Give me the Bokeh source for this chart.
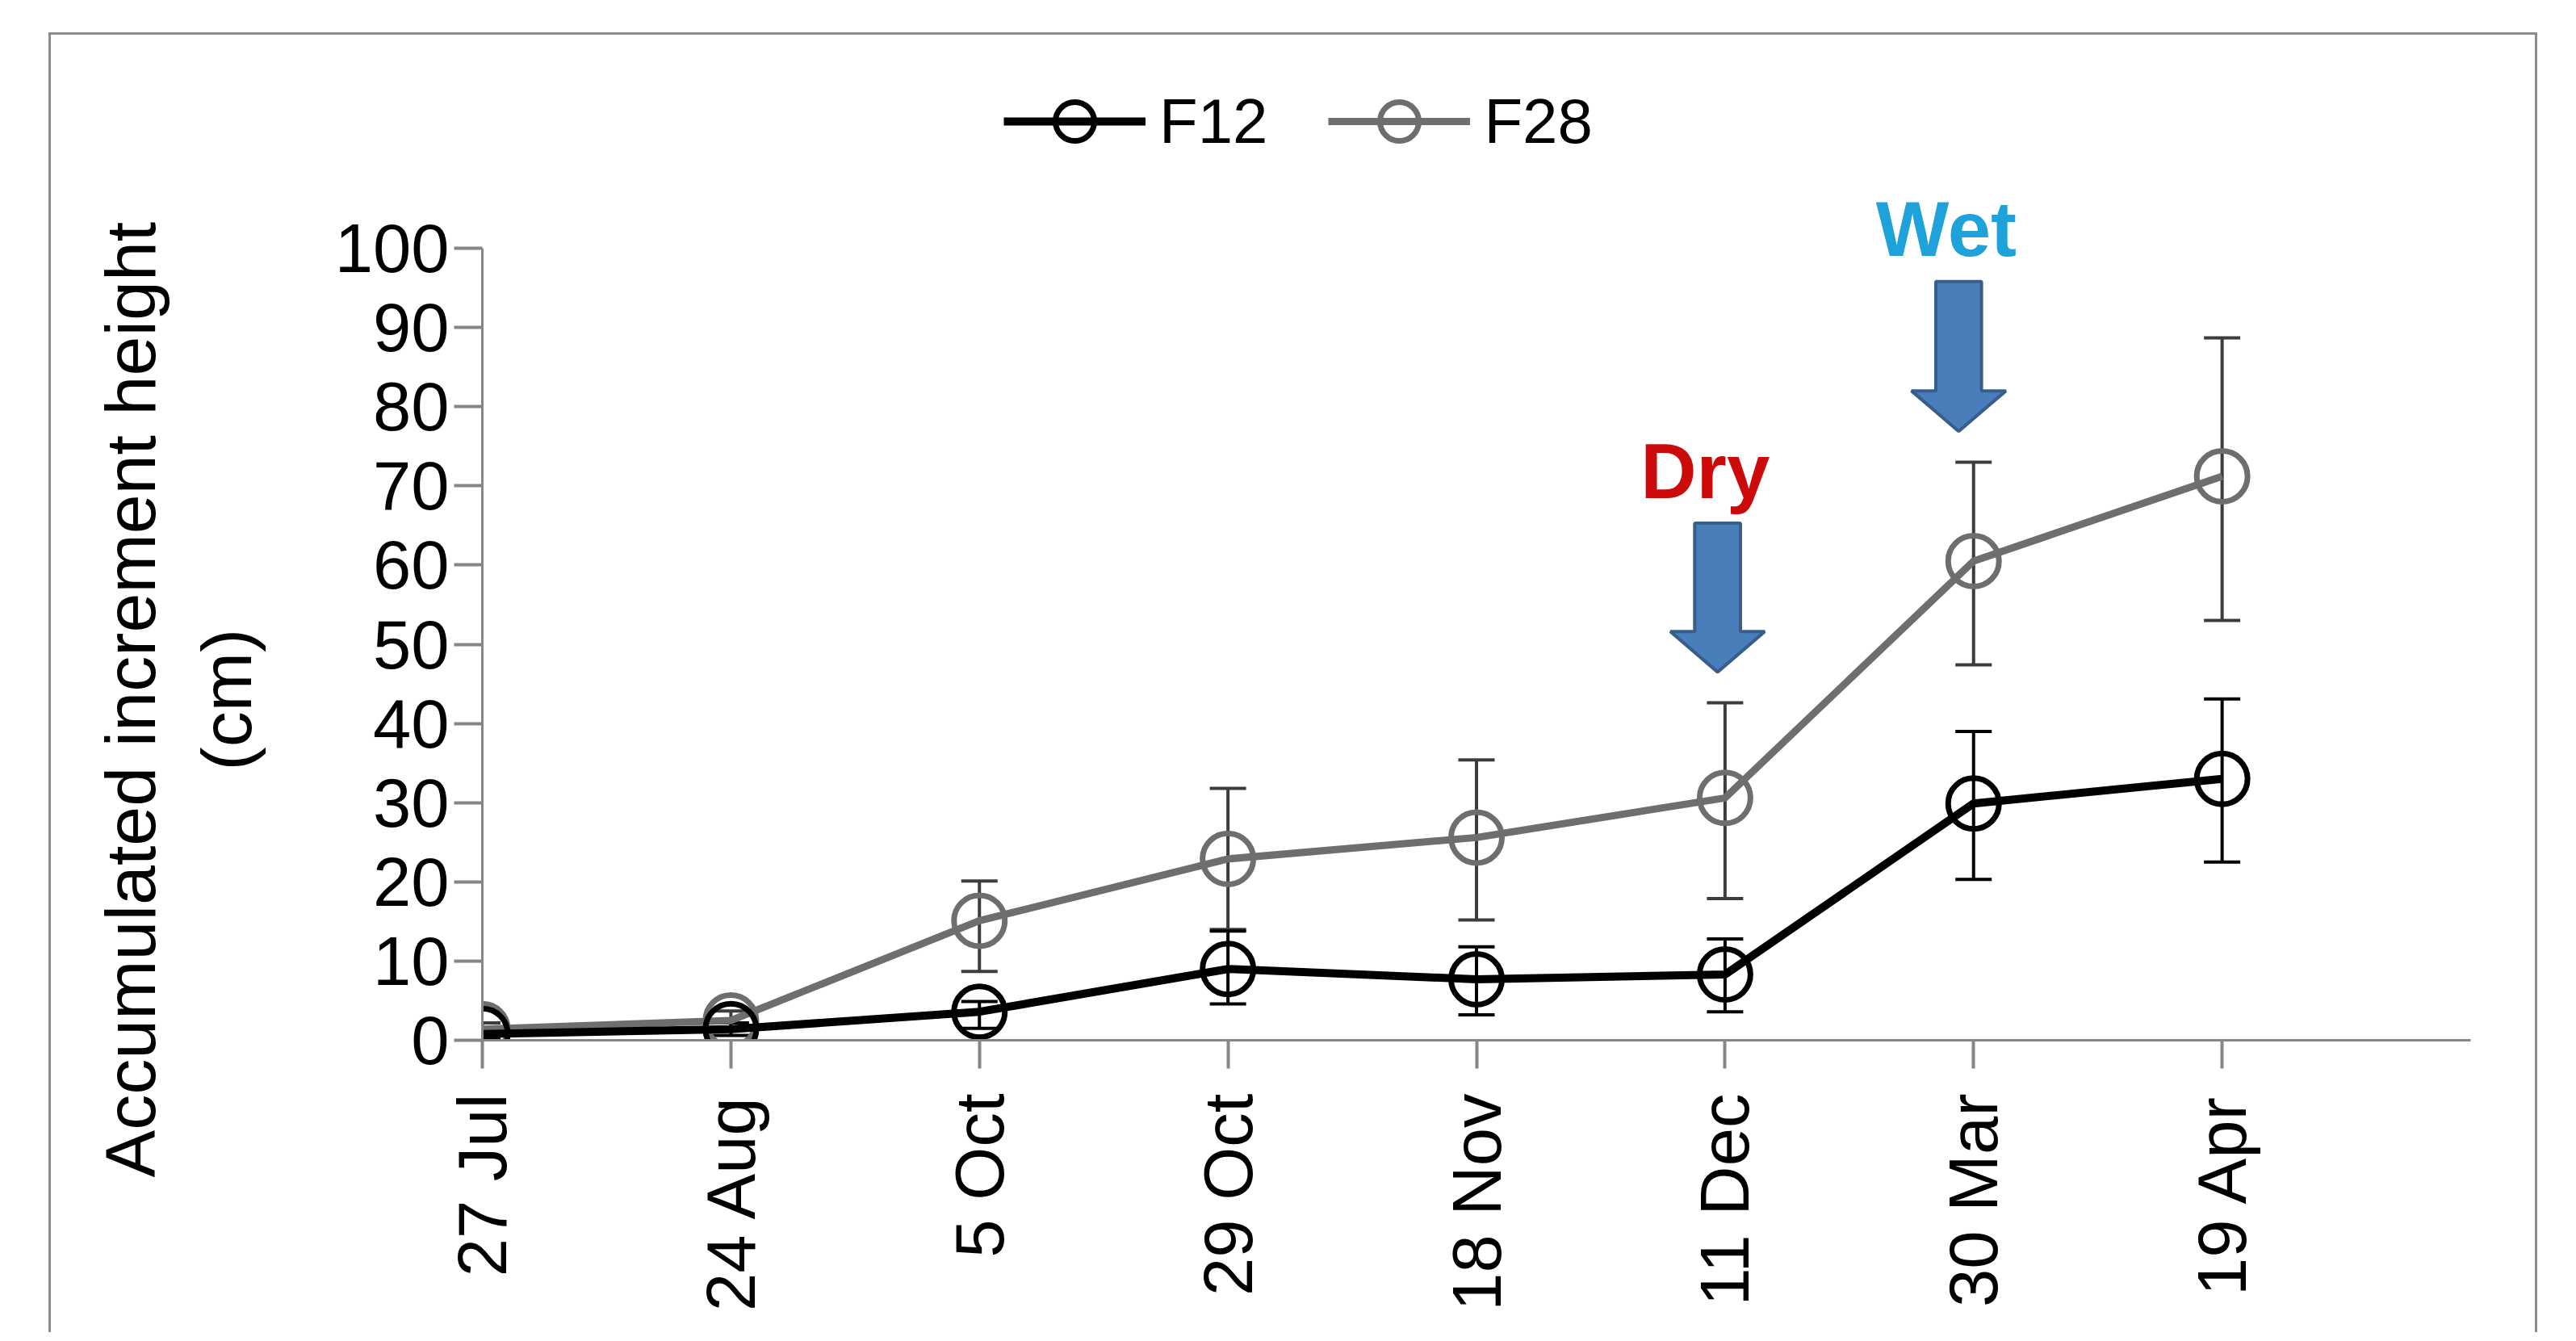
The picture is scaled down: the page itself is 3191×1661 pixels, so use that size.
import numpy as np
from bokeh.plotting import figure
from bokeh.models import (ColumnDataSource, Whisker, TeeHead, Legend, LegendItem,
                          Label, FixedTicker, Range1d)
from bokeh.embed import file_html
from bokeh.resources import INLINE

# ---------------- data ----------------
dates = ["27 Jul", "24 Aug", "5 Oct", "29 Oct", "18 Nov", "11 Dec", "30 Mar", "19 Apr"]
f12_mean = [0.8, 1.4, 3.6, 9.0, 7.7, 8.3, 29.9, 33.0]
f12_upper = [1.3, 2.2, 4.9, 13.8, 11.8, 12.8, 39.0, 43.1]
f12_lower = [0.3, 0.6, 1.5, 4.6, 3.2, 3.6, 20.3, 22.5]
f28_mean = [1.4, 2.5, 15.1, 22.9, 25.6, 30.6, 60.5, 71.2]
f28_upper = [2.2, 3.7, 20.1, 31.8, 35.4, 42.6, 73.0, 88.7]
f28_lower = [0.6, 1.3, 8.7, 14.0, 15.2, 17.9, 47.4, 53.0]
y_ticks = [0, 10, 20, 30, 40, 50, 60, 70, 80, 90, 100]
y_title_lines = ["Accumulated increment height", "(cm)"]

events = ["Dry", "Wet"]
event_x = [4.97, 5.94]
event_top = [65.3, 95.8]
event_tip = [46.5, 76.9]
event_label_x = [4.92, 5.89]
event_label_y = [71.9, 102.5]
event_colors = ["#cc0a0a", "#1fa2da"]

# ---------------- style ----------------
FONT = "Liberation Sans"
AXIS_GRAY = "#868686"
GRAY = "#6e6e6e"
SHAFT_HALF = 0.092
HEAD_HALF = 0.19
HEAD_LEN = 5.1
Y_AXIS_MAX = 100
Y_VIEW_MAX = 125.9
X_VIEW_MAX = 8
TITLE_PAD = "\u00a0" * 16   # shifts the axis title down along the (taller) frame

x = list(range(len(dates)))

p = figure(width=3083, height=1610, output_backend="svg", toolbar_location=None,
           x_range=Range1d(0, X_VIEW_MAX), y_range=Range1d(0, Y_VIEW_MAX),
           min_border_left=534, min_border_right=86, min_border_top=10, min_border_bottom=365,
           background_fill_color="white", border_fill_color="white",
           margin=(40, 0, 0, 60),
           styles={"border-left": "3px solid #8c8c8c", "border-top": "3px solid #8c8c8c",
                   "border-right": "3px solid #8c8c8c"})
p.outline_line_color = None
p.xgrid.visible = False
p.ygrid.visible = False

# axes
for ax in (p.xaxis[0], p.yaxis[0]):
    ax.axis_line_color = AXIS_GRAY
    ax.axis_line_width = 3
    ax.major_tick_line_color = AXIS_GRAY
    ax.major_tick_line_width = 4
    ax.major_tick_in = 0
    ax.major_tick_out = 35
    ax.minor_tick_line_color = None
    ax.major_label_text_font = FONT
    ax.major_label_text_font_size = "85px"
    ax.major_label_text_color = "black"

p.xaxis.ticker = FixedTicker(ticks=x)
p.xaxis.bounds = (0, X_VIEW_MAX)
p.xaxis.major_label_overrides = {i: d for i, d in enumerate(dates)}
p.xaxis.major_label_orientation = np.pi / 2
p.xaxis.major_label_standoff = 31

p.yaxis.ticker = FixedTicker(ticks=y_ticks)
p.yaxis.bounds = (0, Y_AXIS_MAX)
p.yaxis.major_label_standoff = 6
p.yaxis.axis_label = "\n".join(line + TITLE_PAD for line in y_title_lines)
p.yaxis.axis_label_text_font = FONT
p.yaxis.axis_label_text_font_size = "88px"
p.yaxis.axis_label_text_font_style = "normal"
p.yaxis.axis_label_text_color = "black"
p.yaxis.axis_label_standoff = 82
p.yaxis.axis_label_text_line_height = 1.2

# arrows (Dry / Wet)
arrow_xs, arrow_ys = [], []
for cx, top, tip in zip(event_x, event_top, event_tip):
    base = tip + HEAD_LEN
    arrow_xs.append([cx - SHAFT_HALF, cx + SHAFT_HALF, cx + SHAFT_HALF, cx + HEAD_HALF,
                     cx, cx - HEAD_HALF, cx - SHAFT_HALF])
    arrow_ys.append([top, top, base, base, tip, base, base])
p.patches(arrow_xs, arrow_ys, fill_color="#4a7ebb", line_color="#385d8a", line_width=4)

for name, lx, ly, col in zip(events, event_label_x, event_label_y, event_colors):
    p.add_layout(Label(x=lx, y=ly, text=name, text_align="center", text_baseline="alphabetic",
                       text_font=FONT, text_font_size="96px", text_font_style="bold",
                       text_color=col))

# series
src28 = ColumnDataSource(dict(x=x, y=f28_mean, up=f28_upper, lo=f28_lower))
src12 = ColumnDataSource(dict(x=x, y=f12_mean, up=f12_upper, lo=f12_lower))

for src, col in ((src28, "#3c3c3c"), (src12, "black")):
    w = Whisker(source=src, base="x", upper="up", lower="lo", dimension="height",
                line_color=col, line_width=4,
                upper_head=TeeHead(size=45, line_color=col, line_width=4),
                lower_head=TeeHead(size=45, line_color=col, line_width=4))
    p.add_layout(w)

l28 = p.line("x", "y", source=src28, line_color=GRAY, line_width=9)
s28 = p.scatter("x", "y", source=src28, marker="circle", size=63, fill_color=None,
                line_color=GRAY, line_width=7)
l12 = p.line("x", "y", source=src12, line_color="black", line_width=10)
s12 = p.scatter("x", "y", source=src12, marker="circle", size=63, fill_color=None,
                line_color="black", line_width=7)

legend = Legend(items=[LegendItem(label="F12", renderers=[l12, s12]),
                       LegendItem(label="F28", renderers=[l28, s28])],
                orientation="horizontal", location=(646, 1078),
                glyph_width=176, glyph_height=120, label_standoff=17, spacing=75,
                padding=0, margin=0, border_line_color=None, background_fill_alpha=0,
                label_text_font=FONT, label_text_font_size="78px", label_text_color="black")
p.add_layout(legend, "center")

open("out.html", "w").write(file_html(p, INLINE))
